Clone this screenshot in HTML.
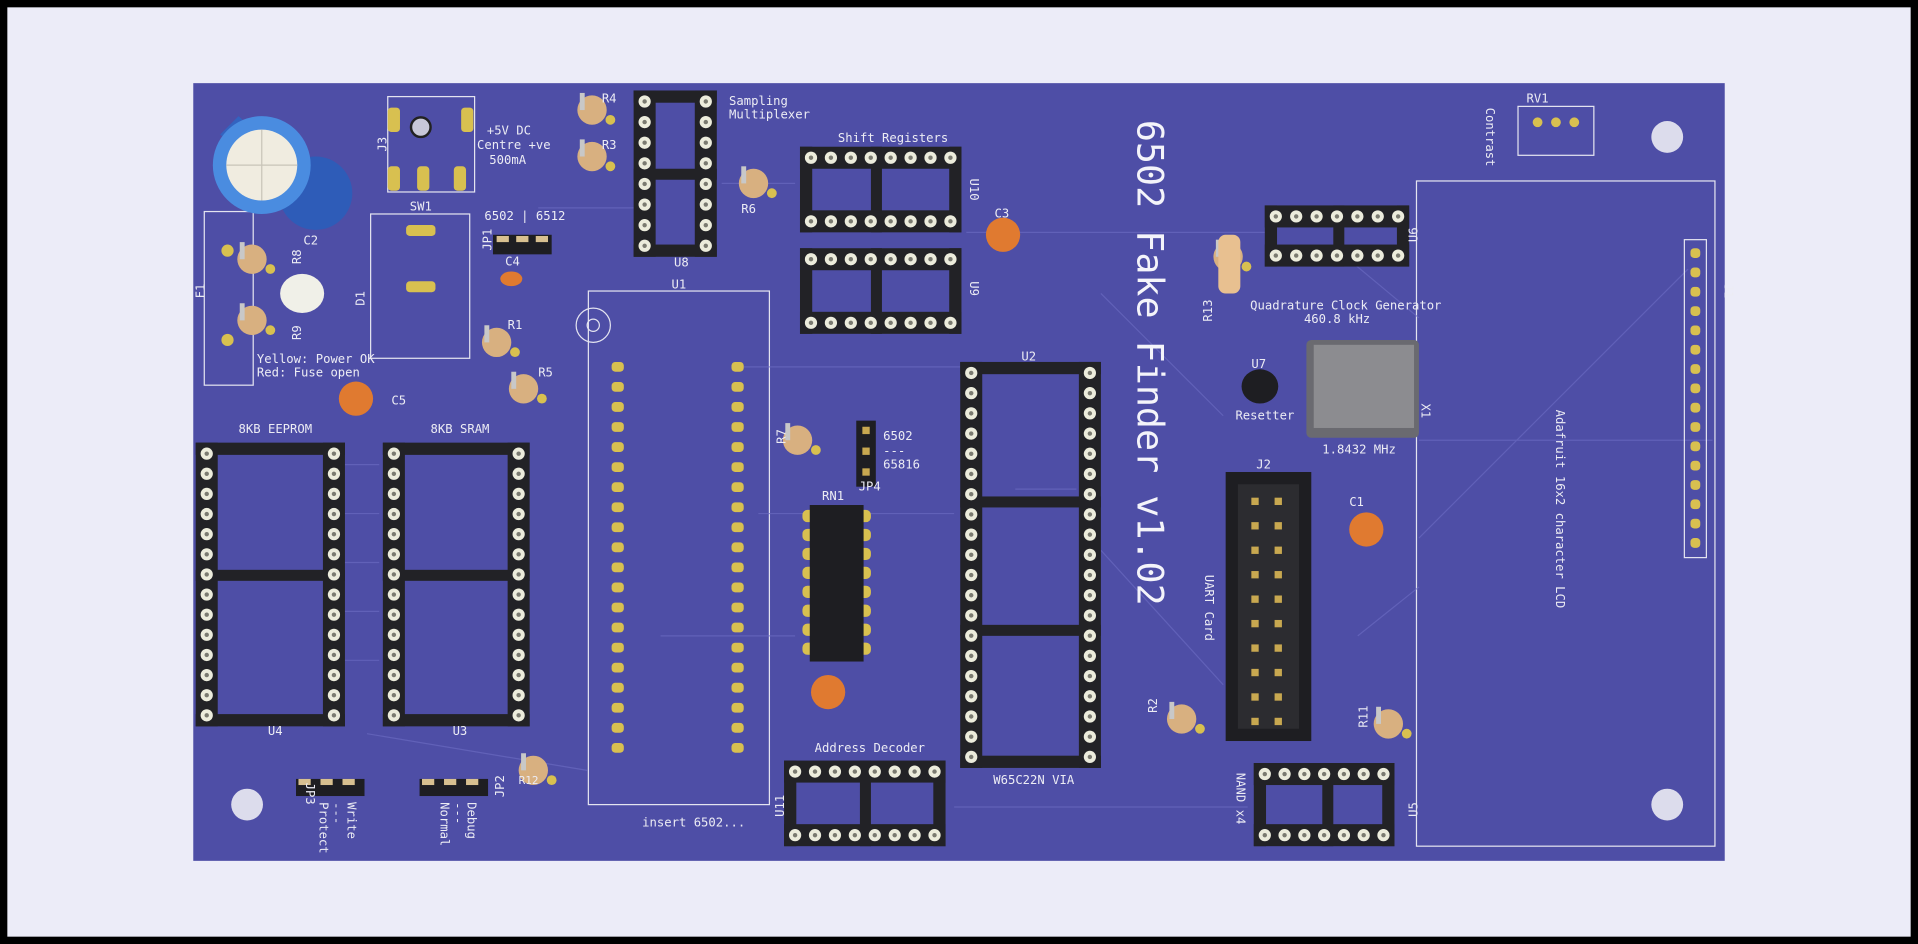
<!DOCTYPE html>
<html><head><meta charset="utf-8"><style>
html,body{margin:0;padding:0;background:#000;width:1918px;height:944px;overflow:hidden}
svg{display:block}
text{font-family:"DejaVu Sans Mono","Liberation Mono",monospace;fill:#ececf4}
</style></head><body>
<svg id="s" width="1918" height="944" viewBox="0 0 1568 772" preserveAspectRatio="none" xmlns="http://www.w3.org/2000/svg">
<rect x="0" y="0" width="1568" height="772" fill="#000"/>
<rect x="6" y="6" width="1556" height="760" fill="#ececf8"/>
<rect x="158" y="68" width="1252" height="636" fill="#4e4ea6"/>
<g id="silk" fill="none" stroke="#e4e4f0" stroke-width="1">
<rect x="481" y="238" width="148" height="420"/>
<circle cx="485" cy="266" r="14"/><circle cx="485" cy="266" r="5"/>
<rect x="1158" y="148" width="244" height="544"/>
<rect x="303" y="175" width="81" height="118"/>
<rect x="317" y="79" width="71" height="78"/>
<rect x="167" y="173" width="40" height="142"/>
<rect x="1241" y="87" width="62" height="40"/>
</g>
<g stroke="#6a6ac0" stroke-width="1" fill="none" opacity="0.7">
<path d="M440 170 L520 170 M590 150 L650 150 M790 190 L1040 190 M900 240 L1000 340 M1100 210 L1160 260 M1160 360 L1400 360 M600 300 L760 300 M620 420 L780 420 M540 520 L650 520 M900 450 L1000 560 M1160 440 L1380 220 M280 380 L310 380 M280 420 L310 420 M280 460 L310 460 M280 500 L310 500 M280 540 L310 540 M300 600 L480 630 M780 660 L1020 660 M760 300 L790 300 M830 400 L880 400 M1110 520 L1160 480"/>
</g>
<g id="parts"></g>
<g font-size="10">
<text x="596" y="86">Sampling</text><text x="596" y="97">Multiplexer</text>
<text x="685" y="116">Shift Registers</text>
<text x="398" y="110">+5V DC</text><text x="390" y="122">Centre +ve</text><text x="400" y="134">500mA</text>
<text x="335" y="172">SW1</text>
<text x="396" y="180">6502 | 6512</text>
<text x="413" y="217">C4</text>
<text x="248" y="200">C2</text>
<text x="210" y="297">Yellow: Power OK</text><text x="210" y="308">Red: Fuse open</text>
<text x="320" y="331">C5</text>
<text x="195" y="354">8KB EEPROM</text><text x="352" y="354">8KB SRAM</text>
<text x="549" y="236">U1</text><text x="551" y="218">U8</text>
<text x="606" y="174">R6</text><text x="492" y="84">R4</text><text x="492" y="122">R3</text>
<text x="813" y="178">C3</text>
<text x="415" y="269">R1</text><text x="440" y="308">R5</text>
<text x="835" y="295">U2</text>
<text x="722" y="360">6502</text><text x="722" y="372">---</text><text x="722" y="383">65816</text>
<text x="702" y="401">JP4</text>
<text x="672" y="409">RN1</text>
<text x="1022" y="253">Quadrature Clock Generator</text><text x="1066" y="264">460.8 kHz</text>
<text x="1023" y="301">U7</text><text x="1010" y="343">Resetter</text>
<text x="1081" y="371">1.8432 MHz</text>
<text x="1027" y="383">J2</text>
<text x="1103" y="414">C1</text>
<text x="1248" y="84">RV1</text>
<text x="219" y="601">U4</text><text x="370" y="601">U3</text>
<text x="666" y="615">Address Decoder</text>
<text x="812" y="641">W65C22N VIA</text>
<text x="525" y="676">insert 6502...</text>
</g>
<g font-size="10">
<text transform="translate(1215,88) rotate(90)">Contrast</text>
<text transform="translate(985,470) rotate(90)">UART Card</text>
<text transform="translate(1272,335) rotate(90)">Adafruit 16x2 character LCD</text>
<text transform="translate(1011,632) rotate(90)">NAND x4</text>
<text transform="translate(793,146) rotate(90)">U10</text>
<text transform="translate(793,230) rotate(90)">U9</text>
<text transform="translate(1159,198) rotate(-90)">U6</text>
<text transform="translate(1159,668) rotate(-90)">U5</text>
<text transform="translate(641,668) rotate(-90)">U11</text>
<text transform="translate(1162,330) rotate(90)">X1</text>
<text transform="translate(1410,232) rotate(90)">J1</text>
<text transform="translate(167,244) rotate(-90)">F1</text>
<text transform="translate(246,216) rotate(-90)">R8</text>
<text transform="translate(246,278) rotate(-90)">R9</text>
<text transform="translate(298,250) rotate(-90)">D1</text>
<text transform="translate(316,124) rotate(-90)">J3</text>
<text transform="translate(402,205) rotate(-90)">JP1</text>
<text transform="translate(991,263) rotate(-90)">R13</text>
<text transform="translate(642,363) rotate(-90)">R7</text>
<text transform="translate(946,583) rotate(-90)">R2</text>
<text transform="translate(1118,595) rotate(-90)">R11</text>
<text transform="translate(412,652) rotate(-90)">JP2</text>
<text transform="translate(250,640) rotate(90)">JP3</text>
<text transform="translate(284,656) rotate(90)">Write</text>
<text transform="translate(272,656) rotate(90)">---</text>
<text transform="translate(261,656) rotate(90)">Protect</text>
<text transform="translate(382,656) rotate(90)">Debug</text>
<text transform="translate(371,656) rotate(90)">---</text>
<text transform="translate(360,656) rotate(90)">Normal</text>
<text transform="translate(424,641) rotate(0)" font-size="9">R12</text>
</g>
<text transform="translate(930,98) rotate(90)" font-size="30" style="font-family:'DejaVu Sans Mono','Liberation Mono',monospace;fill:#f4f4fa">6502 Fake Finder v1.02</text>
</svg>
<script>
var NS="http://www.w3.org/2000/svg",P=document.getElementById("parts");
function el(t,a){var e=document.createElementNS(NS,t);for(var k in a)e.setAttribute(k,a[k]);P.appendChild(e);return e}
function pin(x,y){el("circle",{cx:x,cy:y,r:5,fill:"#ececdc"});el("circle",{cx:x,cy:y,r:1.8,fill:"#7a7a70"})}
var B="#222226";
function sockV(x,y,w,h,n,bars){
 el("rect",{x:x,y:y,width:18,height:h,fill:B});el("rect",{x:x+w-18,y:y,width:18,height:h,fill:B});
 el("rect",{x:x,y:y,width:w,height:10,fill:B});el("rect",{x:x,y:y+h-10,width:w,height:10,fill:B});
 bars.forEach(function(b){el("rect",{x:x,y:y+b,width:w,height:9,fill:B})});
 var s=(h-18)/(n-1);for(var i=0;i<n;i++){pin(x+9,y+9+i*s);pin(x+w-9,y+9+i*s)}}
function sockH(x,y,w,h,n,bars){
 el("rect",{x:x,y:y,width:w,height:18,fill:B});el("rect",{x:x,y:y+h-18,width:w,height:18,fill:B});
 el("rect",{x:x,y:y,width:10,height:h,fill:B});el("rect",{x:x+w-10,y:y,width:10,height:h,fill:B});
 bars.forEach(function(b){el("rect",{x:x+b,y:y,width:9,height:h,fill:B})});
 var s=(w-18)/(n-1);for(var i=0;i<n;i++){pin(x+9+i*s,y+9);pin(x+9+i*s,y+h-9)}}
sockV(160,362,122,232,14,[104]);
sockV(313,362,120,232,14,[104]);
sockV(518,74,68,136,8,[64]);
sockV(785,296,115,332,20,[110,215]);
sockH(654,120,132,70,8,[58]);
sockH(654,203,132,70,8,[58]);
sockH(1034,168,118,50,7,[56]);
sockH(641,622,132,70,8,[62]);
sockH(1025,624,115,68,7,[56]);
for(var i=0;i<20;i++){var yy=300+i*16.4;el("rect",{x:500,y:yy-4,width:10,height:8,rx:3,fill:"#d8c050"});el("rect",{x:598,y:yy-4,width:10,height:8,rx:3,fill:"#d8c050"})}
el("rect",{x:1002,y:386,width:70,height:220,fill:"#1e1e22"});el("rect",{x:1012,y:396,width:50,height:200,fill:"#2c2c30"});
for(var i=0;i<10;i++){el("rect",{x:1023,y:407+i*20,width:6,height:6,fill:"#c8a850"});el("rect",{x:1042,y:407+i*20,width:6,height:6,fill:"#c8a850"})}
for(var i=0;i<8;i++){var yy=422+i*15.5;el("rect",{x:656,y:yy-5,width:56,height:10,rx:4,fill:"#d8c050"})}
el("rect",{x:662,y:413,width:44,height:128,fill:"#1e1e22"});
el("rect",{x:1068,y:278,width:92,height:80,rx:4,fill:"#6a6a70"});el("rect",{x:1074,y:282,width:82,height:68,fill:"#8c8c90"});
el("ellipse",{cx:1030,cy:316,rx:15,ry:14,fill:"#1e1e22"});
el("rect",{x:1377,y:196,width:18,height:260,fill:"none",stroke:"#e4e4f0"});
for(var i=0;i<16;i++)el("rect",{x:1382,y:203+i*15.8,width:8,height:8,rx:3,fill:"#d8c050"});
[1257,1272,1287].forEach(function(x){el("circle",{cx:x,cy:100,r:4,fill:"#d8c050"})});
[[202,112],[1363,112],[202,658],[1363,658]].forEach(function(p){el("circle",{cx:p[0],cy:p[1],r:13,fill:"#dcdcec"})});
el("path",{d:"M180 110 L250 170 L268 160 L195 95 Z",fill:"#3363c0"});
el("circle",{cx:258,cy:158,r:30,fill:"#2e5cb8"});
el("circle",{cx:214,cy:135,r:40,fill:"#4a8ce0"});el("circle",{cx:214,cy:135,r:29,fill:"#f0ece0"});
el("path",{d:"M214 106 V164 M185 135 H243",stroke:"#c8c4b8","stroke-width":1});
el("ellipse",{cx:247,cy:240,rx:18,ry:16,fill:"#f0f0e8"});
function res(x,y){el("ellipse",{cx:x,cy:y,rx:12,ry:12,fill:"#d8b080"});el("rect",{x:x-10,y:y-14,width:4,height:14,fill:"#c8c8c8"});el("circle",{cx:x+15,cy:y+8,r:4,fill:"#d8c050"})}
[[484,90],[484,128],[616,150],[406,280],[428,318],[206,212],[206,262],[652,360],[966,588],[1135,592],[436,630],[1004,210]].forEach(function(p){res(p[0],p[1])});
el("rect",{x:996,y:192,width:18,height:48,rx:6,fill:"#e8c090"});
[[291,326],[820,192],[677,566],[1117,433]].forEach(function(p){el("circle",{cx:p[0],cy:p[1],r:14,fill:"#e07a30"})});
el("ellipse",{cx:418,cy:228,rx:9,ry:6,fill:"#e07a30"});
[[322,98],[382,98],[322,146],[346,146],[376,146]].forEach(function(p){el("rect",{x:p[0]-5,y:p[1]-10,width:10,height:20,rx:3,fill:"#d8c050"})});
el("circle",{cx:344,cy:104,r:8,fill:"#c8c8d8",stroke:"#222","stroke-width":2});
[[332,188],[332,234]].forEach(function(p){el("rect",{x:p[0],y:p[1]-4,width:24,height:9,rx:3,fill:"#d8c050"})});
function jump(x,y,w,h){el("rect",{x:x,y:y,width:w,height:h,fill:"#1e1e22"})}
jump(403,192,48,16);[410,426,442].forEach(function(x){el("rect",{x:x-4,y:193,width:10,height:5,fill:"#d8c090"})});
jump(700,344,16,54);[352,369,386].forEach(function(y){el("rect",{x:705,y:y-3,width:6,height:6,fill:"#c8a850"})});
jump(242,637,56,14);jump(343,637,56,14);
[248,266,284,349,367,385].forEach(function(x){el("rect",{x:x-4,y:637,width:10,height:5,fill:"#d8c090"})});
[[186,205],[186,278]].forEach(function(p){el("circle",{cx:p[0],cy:p[1],r:5,fill:"#d8c050"})});
</script>
</body></html>
